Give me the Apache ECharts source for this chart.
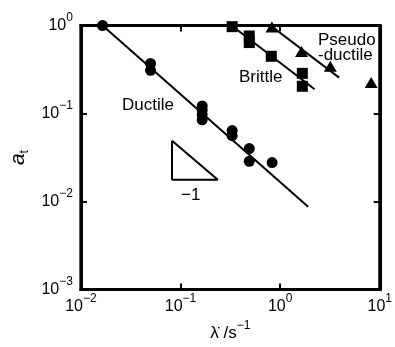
<!DOCTYPE html>
<html>
<head>
<meta charset="utf-8">
<script src="https://cdn.jsdelivr.net/npm/echarts@6/dist/echarts.min.js"></script>
<style>
  html, body { margin: 0; padding: 0; background: #fff; }
  #chart { width: 395px; height: 347px; }
</style>
</head>
<body>
<div id="chart"></div>
<script>
// Strain rate (1/s) and shift factor a_t for the three failure regimes
const ductileRate  = [0.0165, 0.050, 0.050, 0.165, 0.165, 0.165, 0.165, 0.33, 0.33, 0.49, 0.49, 0.83];
const ductileAt    = [1.0,    0.37,  0.31,  0.122, 0.110, 0.097, 0.085, 0.064, 0.056, 0.040, 0.0287, 0.0277];
const brittleRate  = [0.33, 0.49, 0.49, 0.815, 1.67, 1.67];
const brittleAt    = [0.97, 0.76, 0.64, 0.447, 0.286, 0.204];
const pseudoRate   = [0.827, 1.64, 3.19, 8.2];
const pseudoAt     = [0.96,  0.508, 0.345, 0.225];

// Fitted power-law trend lines (end points)
const ductileFitRate = [0.0165, 1.91];
const ductileFitAt   = [1.0, 0.00875];
const brittleFitRate = [0.33, 2.22];
const brittleFitAt   = [0.987, 0.189];
const pseudoFitRate  = [0.80, 3.91];
const pseudoFitAt    = [1.0, 0.256];

// Slope-of-minus-one guide triangle
const slopeRate = [0.0822, 0.0822, 0.237, 0.0822];
const slopeAt   = [0.049, 0.0177, 0.0177, 0.049];

// Axis decades
const xTicks = [0.01, 0.1, 1, 10];
const yTicks = [0.001, 0.01, 0.1, 1];

const FONT = '"Liberation Sans", Arial, Helvetica, sans-serif';

const pairs = (xs, ys) => xs.map((x, i) => [x, ys[i]]);
const supLabel = v => {
  const e = Math.round(Math.log10(v));
  return '{b|10}{s|' + (e < 0 ? '\u2212' + (-e) : e) + '}';
};
const tickRich = {
  b: { fontSize: 16, fontFamily: FONT, color: '#000', lineHeight: 28 },
  s: { fontSize: 12, fontFamily: FONT, color: '#000', lineHeight: 10, verticalAlign: 'top' }
};
const nameRich = {
  b: { fontSize: 17, fontFamily: FONT, color: '#000', lineHeight: 28 },
  s: { fontSize: 12, fontFamily: FONT, color: '#000', lineHeight: 10, verticalAlign: 'top' }
};

const chart = echarts.init(document.getElementById('chart'), null, { renderer: 'canvas' });

const axisCommon = {
  type: 'log',
  logBase: 10,
  axisLine: { show: true, lineStyle: { color: '#000', width: 3 } },
  axisTick: { show: true, inside: true, length: 6, lineStyle: { color: '#000', width: 2 } },
  minorTick: { show: false },
  splitLine: { show: false },
  minorSplitLine: { show: false }
};

const lineSeries = (xs, ys) => ({
  type: 'line',
  data: pairs(xs, ys),
  symbol: 'none',
  lineStyle: { color: '#000', width: 2 },
  silent: true,
  z: 2
});

const markerStyle = { color: '#000', opacity: 1 };

const option = {
  animation: false,
  backgroundColor: '#fff',
  grid: { left: 79, right: 12, top: 25.5, bottom: 54, show: true, borderColor: '#000', borderWidth: 3 },
  xAxis: [
    Object.assign({}, axisCommon, {
      position: 'bottom',
      min: xTicks[0], max: xTicks[xTicks.length - 1],
      axisLabel: { formatter: supLabel, rich: tickRich, margin: 3 },
      name: '{b|\u03BB\u0307 /s}{s|\u22121}',
      nameLocation: 'middle',
      nameGap: 19,
      nameTextStyle: { rich: nameRich }
    }),
    Object.assign({}, axisCommon, {
      position: 'top',
      min: xTicks[0], max: xTicks[xTicks.length - 1],
      axisLabel: { show: false }
    })
  ],
  yAxis: [
    Object.assign({}, axisCommon, {
      position: 'left',
      min: yTicks[0], max: yTicks[yTicks.length - 1],
      axisLabel: { formatter: supLabel, rich: tickRich, margin: 8 },
      name: '{a|a}{t|t}',
      nameLocation: 'middle',
      nameRotate: 90,
      nameGap: 46,
      nameTextStyle: {
        rich: {
          a: { fontSize: 21, fontStyle: 'italic', fontFamily: FONT, color: '#000', lineHeight: 24 },
          t: { fontSize: 12, fontFamily: FONT, color: '#000', lineHeight: 12, verticalAlign: 'bottom' }
        }
      }
    }),
    Object.assign({}, axisCommon, {
      position: 'right',
      min: yTicks[0], max: yTicks[yTicks.length - 1],
      axisLabel: { show: false }
    })
  ],
  series: [
    lineSeries(ductileFitRate, ductileFitAt),
    lineSeries(brittleFitRate, brittleFitAt),
    lineSeries(pseudoFitRate, pseudoFitAt),
    lineSeries(slopeRate, slopeAt),
    {
      name: 'Ductile', type: 'scatter', data: pairs(ductileRate, ductileAt),
      symbol: 'circle', symbolSize: 11, itemStyle: markerStyle, z: 3
    },
    {
      name: 'Brittle', type: 'scatter', data: pairs(brittleRate, brittleAt),
      symbol: 'rect', symbolSize: 11, itemStyle: markerStyle, z: 3
    },
    {
      name: 'Pseudo-ductile', type: 'scatter', data: pairs(pseudoRate, pseudoAt),
      symbol: 'triangle', symbolSize: [13, 11], itemStyle: markerStyle, z: 3
    }
  ],
  graphic: [
    { type: 'text', left: 122, top: 97, style: { text: 'Ductile', font: '17px ' + FONT, fill: '#000' } },
    { type: 'text', left: 239, top: 69, style: { text: 'Brittle', font: '17px ' + FONT, fill: '#000' } },
    { type: 'text', left: 318, top: 32, style: { text: 'Pseudo\n-ductile', font: '17px ' + FONT, fill: '#000', lineHeight: 15, align: 'right' } },
    { type: 'text', left: 181, top: 187, style: { text: '\u22121', font: '17px ' + FONT, fill: '#000' } }
  ]
};

chart.setOption(option);
</script>
</body>
</html>
